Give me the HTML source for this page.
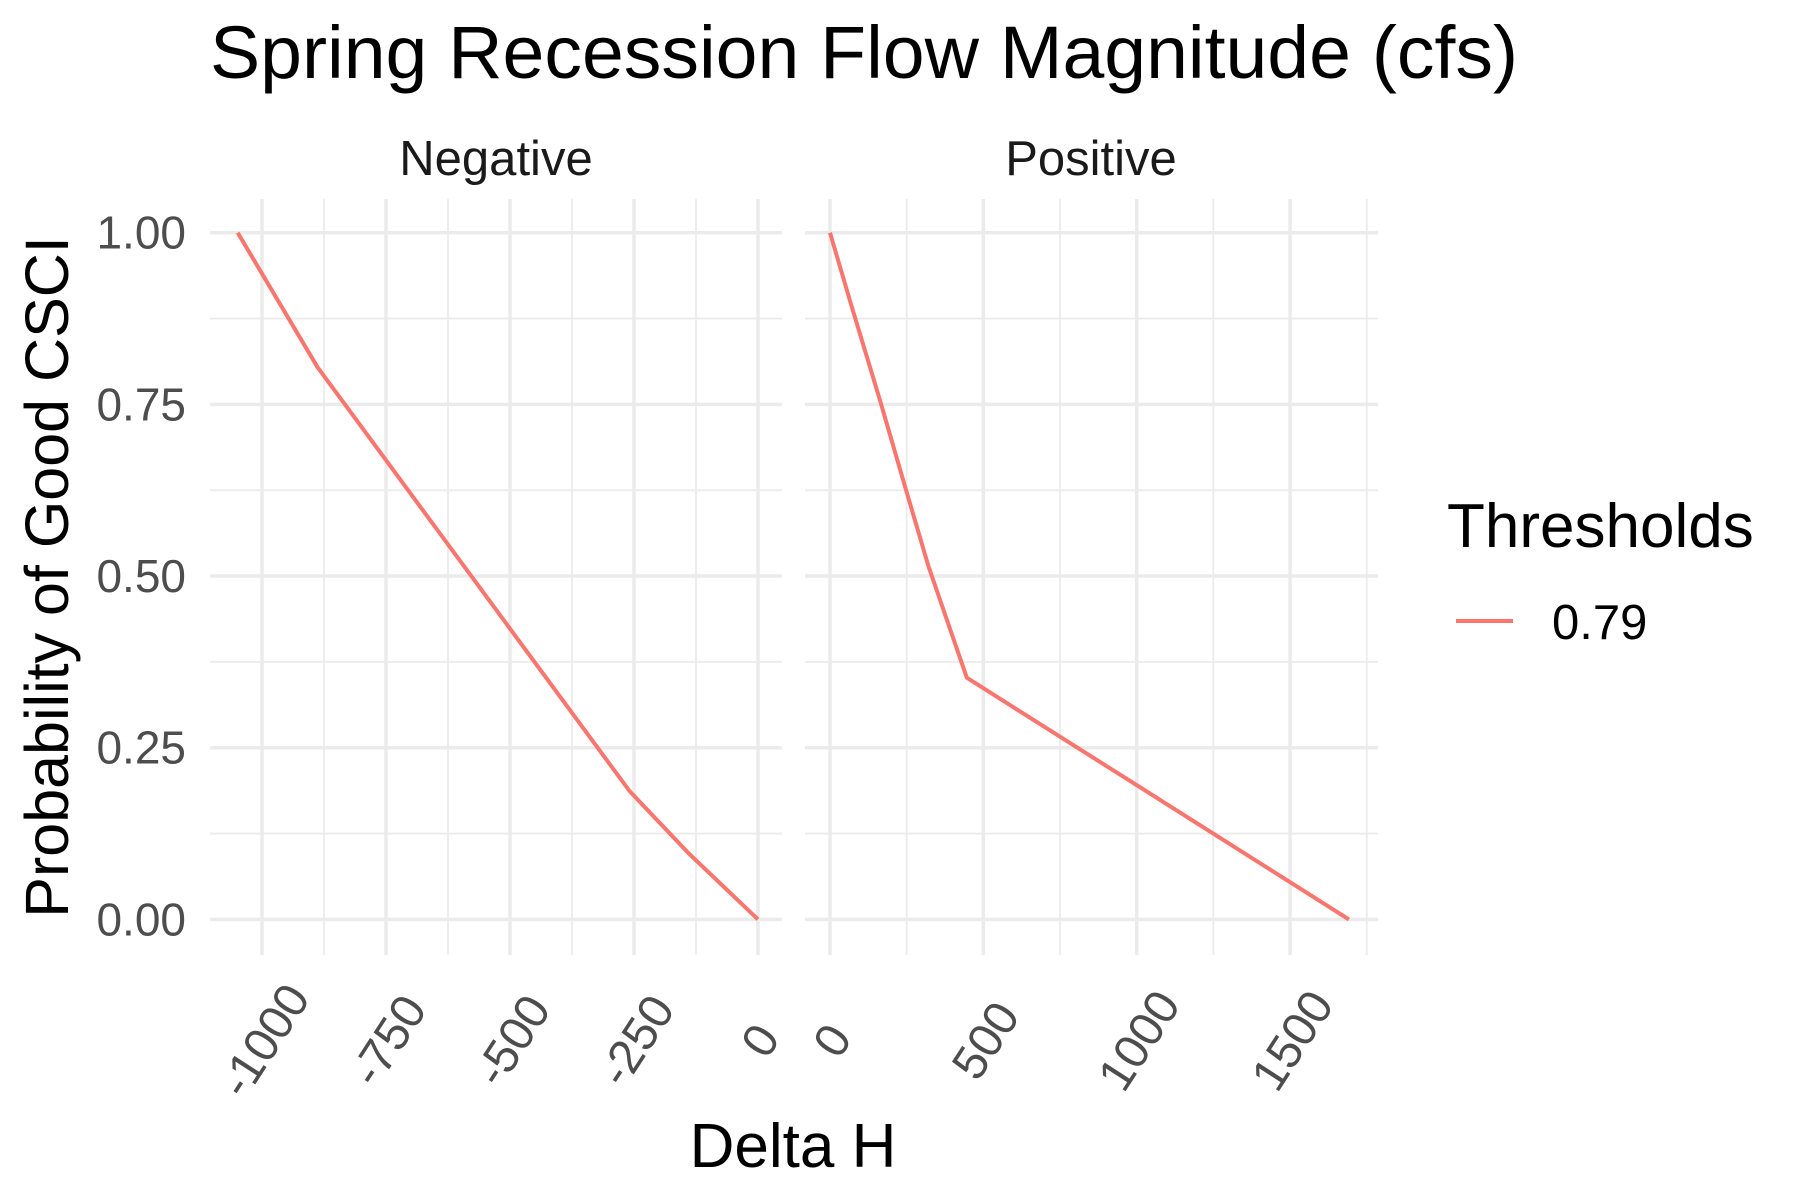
<!DOCTYPE html>
<html><head><meta charset="utf-8"><style>
html,body{margin:0;padding:0;background:#fff;}
svg{display:block;font-family:"Liberation Sans",Arial,sans-serif;}
</style></head>
<body>
<svg id="chart" width="1800" height="1200" viewBox="0 0 1800 1200">
<rect width="1800" height="1200" fill="#fff"/>
<text x="210" y="78" font-size="74" textLength="1308" lengthAdjust="spacingAndGlyphs" fill="#000">Spring Recession Flow Magnitude (cfs)</text>
<text x="496" y="175" font-size="49" text-anchor="middle" fill="#1a1a1a">Negative</text>
<text x="1091" y="175" font-size="49" text-anchor="middle" fill="#1a1a1a">Positive</text>
<g id="grid"></g>
<g id="ylabels"></g>
<g id="xlabels"></g>
<g id="lines"></g>
<text transform="translate(68,577) rotate(-90)" font-size="61" text-anchor="middle" fill="#000">Probability of Good CSCI</text>
<text x="793" y="1167" font-size="62" text-anchor="middle" fill="#000">Delta H</text>
<g>
<text x="1447" y="547" font-size="62" fill="#000">Thresholds</text>
<line x1="1456" y1="621" x2="1513" y2="621" stroke="#F8766D" stroke-width="4"/>
<text x="1552" y="639" font-size="49" fill="#000">0.79</text>
</g>
</svg>
<script>
const yTicks = [0, 0.25, 0.5, 0.75, 1.0];
const yTickLabels = ["0.00", "0.25", "0.50", "0.75", "1.00"];
const negTicks = [-1000, -750, -500, -250, 0];
const negTickLabels = ["-1000", "-750", "-500", "-250", "0"];
const posTicks = [0, 500, 1000, 1500];
const posTickLabels = ["0", "500", "1000", "1500"];
const negX = [-1049, -888, -259, -141, 0];
const negY = [1.0, 0.804, 0.187, 0.097, 0.0];
const posX = [0, 71, 163, 245, 321, 446, 1692];
const posY = [1.0, 0.892, 0.756, 0.630, 0.514, 0.352, 0.0];

const NS = "http://www.w3.org/2000/svg";
const Y0 = 919.4, Y1 = 232.7;
function yScale(v){ return Y0 + (Y1 - Y0) * v; }
const negPanel = {left: 210, right: 782, x0: 758, k: 0.496, min: -1105, max: 48};
const posPanel = {left: 805, right: 1378, x0: 830, k: 0.3067, min: -82, max: 1786};
function xNeg(v){ return negPanel.x0 + v * negPanel.k; }
function xPos(v){ return posPanel.x0 + v * posPanel.k; }
function mk(tag, attrs, parent){
  const e = document.createElementNS(NS, tag);
  for (const a in attrs) e.setAttribute(a, attrs[a]);
  parent.appendChild(e);
  return e;
}
const grid = document.getElementById('grid');
const ylab = document.getElementById('ylabels');
const xlab = document.getElementById('xlabels');
const lines = document.getElementById('lines');
const PT = 199, PB = 955;

function drawPanel(p, xf, ticks, labels, name){
  for (let i = 0; i < yTicks.length - 1; i++) {
    const v = (yTicks[i] + yTicks[i+1]) / 2;
    const l = mk('line', {x1: p.left, x2: p.right, y1: yScale(v), y2: yScale(v), stroke: '#EBEBEB', 'stroke-width': 1.8}, grid);
    
    
  }
  const step = ticks[1] - ticks[0];
  for (let v = ticks[0] - step / 2; v <= p.max; v += step) {
    if (v < p.min) continue;
    const l = mk('line', {x1: xf(v), x2: xf(v), y1: PT, y2: PB, stroke: '#EBEBEB', 'stroke-width': 1.8}, grid);
    
    
  }
  yTicks.forEach(v => {
    const l = mk('line', {x1: p.left, x2: p.right, y1: yScale(v), y2: yScale(v), stroke: '#EBEBEB', 'stroke-width': 3.5}, grid);
    
    
  });
  ticks.forEach((v, i) => {
    const l = mk('line', {x1: xf(v), x2: xf(v), y1: PT, y2: PB, stroke: '#EBEBEB', 'stroke-width': 3.5}, grid);
    
    
    const t = mk('text', {transform: 'translate(' + (xf(v) + 3) + ',1041) rotate(-57)', 'font-size': 48, 'text-anchor': 'middle', 'dominant-baseline': 'central', fill: '#4D4D4D'}, xlab);
    t.textContent = labels[i];
    
    
  });
}
drawPanel(negPanel, xNeg, negTicks, negTickLabels, 'negative');
drawPanel(posPanel, xPos, posTicks, posTickLabels, 'positive');

yTicks.forEach((v, i) => {
  const t = mk('text', {x: 186, y: yScale(v), 'font-size': 46, 'text-anchor': 'end', 'dominant-baseline': 'central', fill: '#4D4D4D'}, ylab);
  t.textContent = yTickLabels[i];
  
  
});

function path(xs, ys, xf){
  return xs.map((x, i) => (i ? 'L' : 'M') + xf(x).toFixed(1) + ',' + yScale(ys[i]).toFixed(1)).join(' ');
}
const ln = mk('path', {d: path(negX, negY, xNeg), fill: 'none', stroke: '#F8766D', 'stroke-width': 4, 'stroke-linejoin': 'round'}, lines);


const lp = mk('path', {d: path(posX, posY, xPos), fill: 'none', stroke: '#F8766D', 'stroke-width': 4, 'stroke-linejoin': 'round'}, lines);


</script>
</body></html>
